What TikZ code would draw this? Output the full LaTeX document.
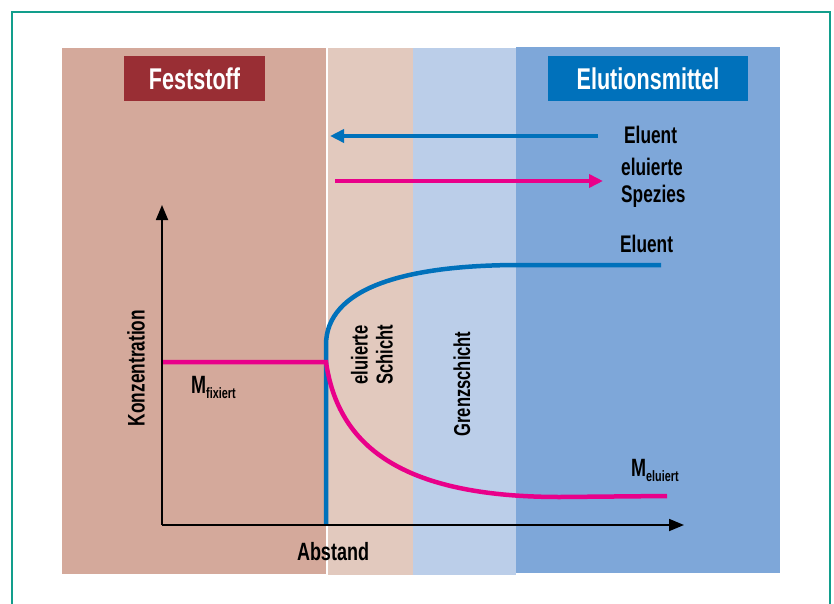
\documentclass[tikz,border=0pt]{standalone}
\usepackage{fontspec}
\setmainfont{Liberation Sans}[FakeStretch=0.72]
\usetikzlibrary{arrows.meta}
\definecolor{frameteal}{HTML}{129E8C}
\definecolor{solidband}{HTML}{D4A99B}
\definecolor{layerband}{HTML}{E2C9BE}
\definecolor{grenzband}{HTML}{BBCEE9}
\definecolor{elutband}{HTML}{7EA7D9}
\definecolor{solidbox}{HTML}{992E34}
\definecolor{elutbox}{HTML}{0071BB}
\definecolor{eluentblue}{HTML}{0071BB}
\definecolor{speciesmag}{HTML}{E9008A}
\tikzset{
  lbl/.style={font=\bfseries\fontsize{24}{26}\selectfont, inner sep=0pt, text=black},
  title/.style={font=\bfseries\fontsize{30}{32}\selectfont, text=white, inner sep=0pt},
  flowarrow/.style={line width=4pt, -{Triangle[length=14pt,width=13pt]}},
  curve/.style={line width=4.5pt},
  axis/.style={line width=1.8pt, -{Triangle[length=15pt,width=12pt]}},
}
\begin{document}
\begin{tikzpicture}[x=1pt,y=-1pt]
\useasboundingbox (0,0) rectangle (834,604);
\fill[white] (0,0) rectangle (834,604);
% frame
\draw[frameteal, line width=2pt] (12,610) -- (12,12) -- (830,12) -- (830,610);
% bands
\fill[solidband] (62,48) rectangle (327,574);
\fill[layerband] (327,48) rectangle (413,575);
\fill[grenzband] (413,48) rectangle (516,575);
\fill[elutband] (516,47) rectangle (780,573);
\draw[white, line width=1.3pt] (327,48) -- (327,575);
% title boxes
\fill[solidbox] (124,56) rectangle (265,101);
\fill[elutbox] (548,56) rectangle (748,101);
\node[title] (tfest) at (194.5,78.5) {Feststoff};
\node[title] (telut) at (648,78.5) {Elutionsmittel};
% flow arrows
\coordinate (ba1) at (598,136);
\coordinate (ba2) at (330,136);
\draw[flowarrow, eluentblue] (ba1) -- (ba2);
\coordinate (ma1) at (335,181);
\coordinate (ma2) at (603,181);
\draw[flowarrow, speciesmag] (ma1) -- (ma2);
\node[lbl, anchor=west] (leluent) at (624,135) {Eluent};
\node[lbl, anchor=west, align=left, font=\bfseries\fontsize{24}{27}\selectfont] (lspez) at (621,183) {eluierte\\Spezies};
\node[lbl, anchor=west] (leluent2) at (620,244) {Eluent};
% axes
\coordinate (origin) at (162,525);
\coordinate (ytip) at (162,205);
\coordinate (xtip) at (684,525);
% curves
\draw[curve, eluentblue] (326,525) -- (326,345) .. controls (326,288) and (405,265) .. (520,265) -- (661,265);
\draw[curve, speciesmag] (163,362) -- (326,362) .. controls (338,445) and (400,497) .. (560,497) -- (667,496);
\draw[axis] (origin) -- (ytip);
\draw[axis] (origin) -- (xtip);
% labels
\node[lbl, rotate=90] (lkonz) at (136,368) {Konzentration};
\node[lbl, font=\bfseries\fontsize{25}{27}\selectfont] (labst) at (333,552) {Abstand};
\node[lbl, anchor=base west, font=\bfseries\fontsize{25}{27}\selectfont] (lmfix) at (191,393) {M\raisebox{-5pt}{\fontsize{15}{15}\selectfont fixiert}};
\node[lbl, anchor=base west, font=\bfseries\fontsize{25}{27}\selectfont] (lmelu) at (631,476) {M\raisebox{-5pt}{\fontsize{15}{15}\selectfont eluiert}};
\node[lbl, rotate=90, align=center, font=\bfseries\fontsize{23}{25}\selectfont] (lschicht) at (372,355) {eluierte\\Schicht};
\node[lbl, rotate=90, font=\bfseries\fontsize{23}{25}\selectfont] (lgrenz) at (462,384) {Grenzschicht};
\end{tikzpicture}
\end{document}
